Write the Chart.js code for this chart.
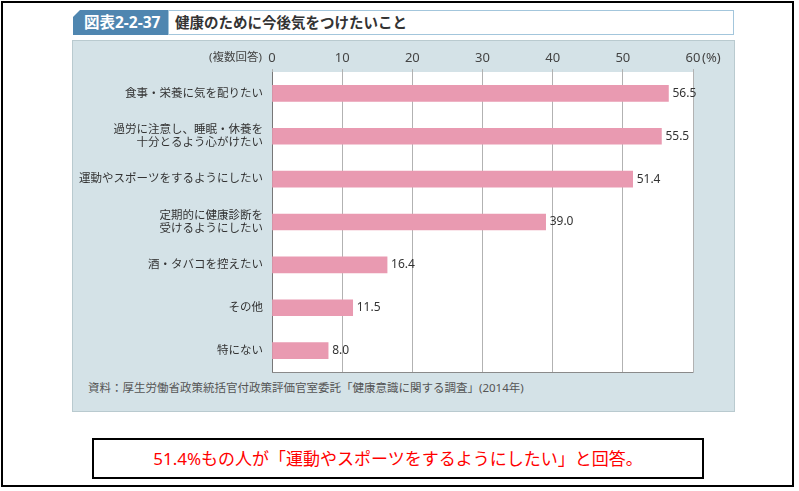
<!DOCTYPE html>
<html>
<head>
<meta charset="utf-8">
<script src="https://cdn.jsdelivr.net/npm/chart.js@4"></script>
<style>
  body { margin: 0; width: 799px; height: 491px; background: #fff; position: relative; overflow: hidden;
         font-family: 'Noto Sans', 'Noto Sans CJK JP', sans-serif; }
  .abs { position: absolute; }
  #frame { left: 1px; top: 1px; width: 793px; height: 486px; border: 2px solid #000; box-sizing: border-box; }
  #tab { left: 73px; top: 10px; width: 95px; height: 25px; background: #4f86b0; color: #fff;
         clip-path: polygon(7px 0, 100% 0, 100% 100%, 0 100%, 0 7px);
         font-weight: bold; font-size: 15.5px; line-height: 25px; padding-left: 11px; box-sizing: border-box; }
  #title { left: 168px; top: 10px; width: 566px; height: 25px; border: 1px solid #a3c6dc; background: #fff;
           box-sizing: border-box; font-weight: bold; font-size: 14.5px; line-height: 23px; padding-left: 6px; color: #333; }
  #panel { left: 72px; top: 40px; width: 663px; height: 372px; background: #d4e2e7; border: 1px solid #b9cacf; box-sizing: border-box; }
  #wrap { left: 73px; top: 40px; width: 661px; height: 340px; }
  #source { left: 88px; top: 380px; font-size: 11.5px; line-height: 16px; color: #555; }
  #note { left: 92px; top: 438px; width: 612px; height: 41px; border: 2px solid #000; box-sizing: border-box;
          color: #f00; font-size: 17px; line-height: 37px; text-align: center; }
</style>
</head>
<body>
<div id="frame" class="abs"></div>
<div id="tab" class="abs">図表2-2-37</div>
<div id="title" class="abs">健康のために今後気をつけたいこと</div>
<div id="panel" class="abs"></div>
<div id="wrap" class="abs"><canvas id="chart" width="661" height="340"></canvas></div>
<div id="source" class="abs">資料：厚生労働省政策統括官付政策評価官室委託「健康意識に関する調査」(2014年)</div>
<div id="note" class="abs">51.4%もの人が「運動やスポーツをするようにしたい」と回答。</div>

<script>
const categories = [
	'食事・栄養に気を配りたい',
	['過労に注意し、睡眠・休養を', '十分とるよう心がけたい'],
	'運動やスポーツをするようにしたい',
	['定期的に健康診断を', '受けるようにしたい'],
	'酒・タバコを控えたい',
	'その他',
	'特にない',
];
const values = [56.5, 55.5, 51.4, 39.0, 16.4, 11.5, 8.0];
const xMin = 0;
const xMax = 60;
const xStep = 10;
const axisPrefix = '(複数回答)';
const axisSuffix = '(%)';

const FONT = "'Noto Sans', 'Noto Sans CJK JP', sans-serif";

// white plot box, bottom line, value labels and the extra axis texts
const decorPlugin = {
	id: 'decor',
	beforeDraw(chart) {
		const { ctx, chartArea } = chart;
		ctx.save();
		ctx.fillStyle = '#fff';
		ctx.fillRect(chartArea.left, chartArea.top, chartArea.right - chartArea.left, chartArea.bottom - chartArea.top);
		ctx.restore();
	},
	afterDraw(chart) {
		const { ctx, chartArea } = chart;
		const x = chart.scales.x;
		ctx.save();
		ctx.strokeStyle = '#8a8a8a';
		ctx.lineWidth = 1;
		ctx.beginPath();
		ctx.moveTo(chartArea.left, chartArea.bottom + 0.5);
		ctx.lineTo(chartArea.right + 0.5, chartArea.bottom + 0.5);
		ctx.stroke();

		const labelY = chartArea.top - 14;
		ctx.fillStyle = '#444';
		ctx.textBaseline = 'middle';
		ctx.font = '11.5px ' + FONT;
		ctx.textAlign = 'right';
		ctx.fillText(axisPrefix, x.getPixelForValue(xMin) - 10, labelY);
		ctx.font = '13px ' + FONT;
		ctx.textAlign = 'left';
		ctx.fillText(axisSuffix, x.getPixelForValue(xMax) + 9, labelY);

		ctx.font = '12px ' + FONT;
		ctx.fillStyle = '#333';
		chart.getDatasetMeta(0).data.forEach((bar, i) => {
			ctx.fillText(values[i].toFixed(1), bar.x + 4, bar.y);
		});
		ctx.restore();
	}
};

const chart = new Chart(document.getElementById('chart').getContext('2d'), {
	type: 'bar',
	data: {
		labels: categories,
		datasets: [{
			data: values,
			backgroundColor: '#e99ab1',
			borderWidth: 0,
			barThickness: 16,
		}],
	},
	options: {
		indexAxis: 'y',
		responsive: false,
		animation: false,
		devicePixelRatio: 1,
		layout: { padding: { left: 0, right: 41, top: 0, bottom: 8 } },
		plugins: { legend: { display: false }, tooltip: { enabled: false } },
		scales: {
			x: {
				position: 'top',
				min: xMin,
				max: xMax,
				afterFit(scale) { scale.height = 32; },
				ticks: { stepSize: xStep, color: '#444', font: { size: 13, family: FONT }, padding: 3 },
				grid: { color: '#b2b2b2', lineWidth: 1, tickLength: 3, drawTicks: true },
				border: { display: false },
			},
			y: {
				afterFit(scale) {
					scale.width = 199;
					scale.paddingTop = 0;
					scale.paddingBottom = 0;
				},
				ticks: { color: '#333', font: { size: 11.5, family: FONT, lineHeight: 1.15 }, padding: 9 },
				grid: { display: false, drawTicks: false },
				border: { display: true, color: '#777', width: 1 },
			},
		},
	},
	plugins: [decorPlugin],
});
</script>
</body>
</html>
